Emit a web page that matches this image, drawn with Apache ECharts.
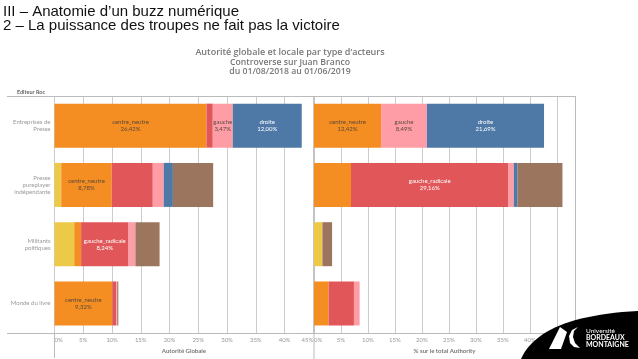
<!DOCTYPE html>
<html><head><meta charset="utf-8">
<script src="https://cdn.jsdelivr.net/npm/echarts@6.0.0/dist/echarts.min.js"></script>
<style>html,body{margin:0;padding:0;background:#fff}#c{width:638px;height:359px}</style>
</head><body><div id="c"></div>
<script>
// ---- data ----
const categories = ['Entreprises de\nPresse', 'Presse\npureplayer\nindépendante', 'Militants\npolitiques', 'Monde du livre'];
const seriesNames = ['autre', 'centre_neutre', 'gauche_radicale', 'gauche', 'droite', 'extreme_droite'];
const seriesColors = ['#EDC948', '#F48D22', '#E15759', '#FF9DA7', '#4E79A7', '#9C755F'];
// Autorité globale (%)
const globalAutre = [0, 1.17, 3.43, 0];
const globalCentre = [26.42, 8.78, 1.2, 10.05];
const globalGaucheRad = [1.1, 7.14, 8.24, 0.7];
const globalGauche = [3.47, 1.9, 1.2, 0.15];
const globalDroite = [12.0, 1.6, 0, 0];
const globalExtDroite = [0, 7.0, 4.2, 0.2];
// % sur le total Authority
const localAutre = [0, 0, 1.55, 0];
const localCentre = [12.42, 6.85, 0, 2.7];
const localGaucheRad = [0, 29.16, 0, 4.7];
const localGauche = [8.49, 1.0, 0, 1.05];
const localDroite = [21.69, 0.7, 0, 0];
const localExtDroite = [0, 8.3, 1.8, 0];
// labels written inside segments
const globalLabels = {
  centre_neutre: ['26,42%', '8,78%', '', '9,32%'],
  gauche: ['3,47%', '', '', ''],
  droite: ['12,00%', '', '', ''],
  gauche_radicale: ['', '', '8,24%', '']
};
const localLabels = {
  centre_neutre: ['12,42%', '', '', ''],
  gauche: ['8,49%', '', '', ''],
  droite: ['21,69%', '', '', ''],
  gauche_radicale: ['', '29,16%', '', '']
};
const xTicksMax = 45;

const globalData = [globalAutre, globalCentre, globalGaucheRad, globalGauche, globalDroite, globalExtDroite];
const localData = [localAutre, localCentre, localGaucheRad, localGauche, localDroite, localExtDroite];
const lightText = {gauche_radicale: true, droite: true};

const chart = echarts.init(document.getElementById('c'), null, {renderer: 'canvas'});
const FONT = 'Lato, "Noto Sans", sans-serif';
const TFONT = '"Open Sans", sans-serif';
const GRID = '#cccccc';

function buildSeries(dataSet, labelSet, idx, stack) {
  return seriesNames.map((name, si) => ({
    type: 'bar', name: name, stack: stack,
    xAxisIndex: idx, yAxisIndex: idx,
    barWidth: 44,
    itemStyle: {color: seriesColors[si]},
    label: {show: false},
    emphasis: {disabled: true},
    data: dataSet[si].map((v, ci) => {
      const lab = labelSet[name] ? labelSet[name][ci] : '';
      return {
        value: v,
        label: {
          show: !!lab, position: 'inside',
          formatter: lab ? name + '\n' + lab : '',
          color: lightText[name] ? '#ffffff' : '#5a4a3a',
          fontSize: 6, fontFamily: FONT, lineHeight: 7
        }
      };
    })
  }));
}

// decorative logo outline (quadratic curve sampled into polygon)
function curvePoints() {
  const p0 = [521, 359], c = [540, 316], p1 = [638, 311];
  const pts = [];
  for (let i = 0; i <= 24; i++) {
    const t = i / 24, u = 1 - t;
    pts.push([u * u * p0[0] + 2 * u * t * c[0] + t * t * p1[0], u * u * p0[1] + 2 * u * t * c[1] + t * t * p1[1]]);
  }
  pts.push([638, 359]);
  return pts;
}

const tickLabel = {color: '#999', fontSize: 6, fontFamily: FONT, margin: 4};

const option = {
  animation: false,
  grid: [
    {left: 54.5, top: 96, width: 258.8, height: 237.4},
    {left: 314, top: 96, width: 261, height: 237.4}
  ],
  xAxis: [
    {gridIndex: 0, type: 'value', min: 0, max: xTicksMax, interval: 5,
     axisLine: {show: false}, axisTick: {show: false},
     splitLine: {show: true, lineStyle: {color: GRID, width: 1}},
     axisLabel: Object.assign({}, tickLabel, {formatter: '{value}%', alignMinLabel: 'left', alignMaxLabel: 'right'}),
     name: 'Autorité Globale', nameLocation: 'middle', nameGap: 13,
     nameTextStyle: {color: '#777', fontSize: 6, fontWeight: 'bold', fontFamily: FONT}},
    {gridIndex: 1, type: 'value', min: 0, max: 261 / 5.4, interval: 5,
     axisLine: {show: false}, axisTick: {show: false},
     splitLine: {show: true, lineStyle: {color: GRID, width: 1}},
     axisLabel: Object.assign({}, tickLabel, {
       formatter: v => (Math.abs(v % 5) < 1e-6 ? v + '%' : ''), alignMinLabel: 'left'}),
     name: '% sur le total Authority', nameLocation: 'middle', nameGap: 13,
     nameTextStyle: {color: '#777', fontSize: 6, fontWeight: 'bold', fontFamily: FONT}}
  ],
  yAxis: [
    {gridIndex: 0, type: 'category', data: categories, inverse: true,
     axisLine: {show: false}, axisTick: {show: false},
     axisLabel: {color: '#999', fontSize: 6, fontFamily: FONT, lineHeight: 6.8, margin: 4, align: 'right'}},
    {gridIndex: 1, type: 'category', data: categories, inverse: true,
     axisLine: {show: false}, axisTick: {show: false}, axisLabel: {show: false}}
  ],
  series: buildSeries(globalData, globalLabels, 0, 'g').concat(buildSeries(localData, localLabels, 1, 'l')),
  graphic: [
    {type: 'text', x: 3, y: 12, style: {text: 'III – Anatomie d’un buzz numérique', fill: '#111', font: '15px "Liberation Sans", sans-serif', verticalAlign: 'middle'}},
    {type: 'text', x: 3, y: 26, style: {text: '2 – La puissance des troupes ne fait pas la victoire', fill: '#111', font: '15px "Liberation Sans", sans-serif', verticalAlign: 'middle'}},
    {type: 'text', x: 290, y: 52.5, style: {text: 'Autorité globale et locale par type d’acteurs', fill: '#777', font: '600 9px ' + TFONT, align: 'center', verticalAlign: 'middle'}},
    {type: 'text', x: 290, y: 62.5, style: {text: 'Controverse sur Juan Branco', fill: '#777', font: '600 8.7px ' + TFONT, align: 'center', verticalAlign: 'middle'}},
    {type: 'text', x: 290, y: 71.5, style: {text: 'du 01/08/2018 au 01/06/2019', fill: '#777', font: '600 8.7px ' + TFONT, align: 'center', verticalAlign: 'middle'}},
    {type: 'text', x: 31, y: 92, style: {text: 'Editeur Roc', fill: '#666', font: 'bold 5.5px ' + FONT, align: 'center', verticalAlign: 'middle'}},
    {type: 'line', shape: {x1: 7, y1: 96.5, x2: 575.5, y2: 96.5}, style: {stroke: '#bbb', lineWidth: 1}, z: 1},
    {type: 'line', shape: {x1: 7, y1: 333.5, x2: 575.5, y2: 333.5}, style: {stroke: '#bbb', lineWidth: 1}, z: 1},
    {type: 'line', shape: {x1: 54.5, y1: 333, x2: 54.5, y2: 358}, style: {stroke: '#bbb', lineWidth: 1}, z: 1},
    {type: 'line', shape: {x1: 314, y1: 96, x2: 314, y2: 359}, style: {stroke: '#bbb', lineWidth: 1}, z: 1},
    {type: 'line', shape: {x1: 575.5, y1: 96, x2: 575.5, y2: 359}, style: {stroke: '#bbb', lineWidth: 1}, z: 1},
    // logo
    {type: 'polygon', z: 100, shape: {points: curvePoints()}, style: {fill: '#000'}},
    {type: 'polygon', z: 101, shape: {points: [[549, 349], [560, 327], [567, 332], [561, 349]]}, style: {fill: '#fff'}},
    {type: 'polygon', z: 101, shape: {points: [[578, 327], [572, 330], [569, 336], [570, 343], [574, 347], [580, 348], [575, 343], [573, 337], [574, 331]]}, style: {fill: '#fff'}},
    {type: 'text', z: 102, x: 586, y: 331, style: {text: 'Université', fill: '#fff', font: '6.5px ' + FONT, verticalAlign: 'middle'}},
    {type: 'text', z: 102, x: 586, y: 338, style: {text: 'BORDEAUX', fill: '#fff', font: 'bold 7px ' + FONT, verticalAlign: 'middle'}},
    {type: 'text', z: 102, x: 586, y: 345, style: {text: 'MONTAIGNE', fill: '#fff', font: 'bold 7px ' + FONT, verticalAlign: 'middle'}}
  ]
};
chart.setOption(option);
</script></body></html>
